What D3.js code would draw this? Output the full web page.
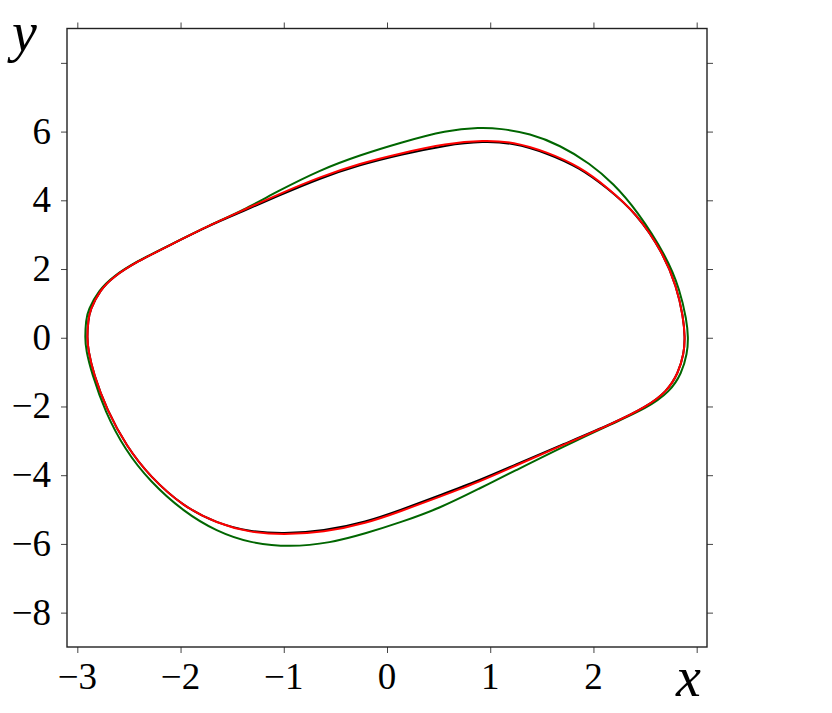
<!DOCTYPE html>
<html>
<head>
<meta charset="utf-8">
<script src="https://d3js.org/d3.v7.min.js"></script>
<style>
    body { margin: 0; background: #fff; }
    .tick_label { font-family: "Liberation Serif", "DejaVu Serif", serif; font-size: 37px; fill: #000; }
    .axis_label { font-family: "Liberation Serif", "DejaVu Serif", serif; font-style: italic; font-size: 56px; fill: #000; }
</style>
</head>
<body>
<div id="container"><svg></svg></div>
<script>
let width = 832;
let height = 713;

// tick values
let x_ticks = [-3, -2, -1, 0, 1, 2, 3];
let y_ticks = [-8, -6, -4, -2, 0, 2, 4, 6, 8];
let x_labels = ['\u22123', '\u22122', '\u22121', '0', '1', '2', ''];
let y_labels = ['\u22128', '\u22126', '\u22124', '\u22122', '0', '2', '4', '6', ''];

// closed orbits
let green_x = [-2.926, -2.916, -2.897, -2.790, -2.659, -2.432, -2.107, -1.715, -1.392, -1.069, -0.649, -0.262, 0.126, 0.578, 0.901, 1.095, 1.385, 1.676, 1.967, 2.192, 2.419, 2.710, 2.838, 2.903, 2.919, 2.909, 2.855, 2.742, 2.516, 2.192, 1.708, 1.224, 0.901, 0.513, 0.126, -0.197, -0.552, -0.940, -1.327, -1.650, -1.973, -2.296, -2.538, -2.732, -2.861, -2.916];
let green_y = [0.000, 0.516, 0.807, 1.389, 1.775, 2.211, 2.697, 3.279, 3.715, 4.247, 4.885, 5.314, 5.672, 6.041, 6.120, 6.091, 5.945, 5.605, 5.073, 4.491, 3.715, 2.357, 1.389, 0.516, 0.000, -0.452, -1.034, -1.569, -2.052, -2.488, -3.168, -3.895, -4.378, -4.960, -5.378, -5.686, -5.977, -6.094, -5.977, -5.640, -5.058, -4.186, -3.264, -2.150, -1.034, -0.356];

let black_x = [-2.906, -2.894, -2.877, -2.780, -2.651, -2.425, -2.102, -1.715, -1.392, -1.069, -0.649, -0.262, 0.126, 0.578, 0.933, 1.224, 1.547, 1.870, 2.128, 2.419, 2.677, 2.806, 2.870, 2.887, 2.877, 2.822, 2.710, 2.516, 2.192, 1.708, 1.224, 0.901, 0.513, 0.126, -0.197, -0.617, -1.005, -1.327, -1.650, -1.973, -2.296, -2.522, -2.715, -2.845, -2.894];
let black_y = [0.000, 0.516, 0.807, 1.389, 1.775, 2.211, 2.697, 3.279, 3.685, 4.111, 4.643, 5.033, 5.324, 5.614, 5.720, 5.671, 5.380, 4.944, 4.372, 3.619, 2.456, 1.484, 0.612, 0.000, -0.452, -1.034, -1.569, -2.005, -2.488, -3.099, -3.720, -4.146, -4.582, -5.018, -5.356, -5.629, -5.706, -5.649, -5.396, -4.913, -4.041, -3.168, -2.101, -1.034, -0.356];

let red_x = [-2.906, -2.894, -2.877, -2.780, -2.651, -2.425, -2.102, -1.715, -1.392, -1.069, -0.649, -0.262, 0.126, 0.578, 0.933, 1.224, 1.547, 1.870, 2.128, 2.419, 2.677, 2.806, 2.870, 2.887, 2.877, 2.822, 2.710, 2.516, 2.192, 1.708, 1.224, 0.901, 0.513, 0.126, -0.197, -0.617, -1.005, -1.327, -1.650, -1.973, -2.296, -2.522, -2.715, -2.845, -2.894];
let red_y = [0.000, 0.516, 0.807, 1.389, 1.775, 2.211, 2.697, 3.279, 3.715, 4.151, 4.683, 5.073, 5.364, 5.654, 5.750, 5.701, 5.410, 4.974, 4.392, 3.619, 2.456, 1.484, 0.612, 0.000, -0.452, -1.034, -1.569, -2.005, -2.488, -3.119, -3.750, -4.186, -4.622, -5.058, -5.396, -5.669, -5.736, -5.669, -5.396, -4.913, -4.041, -3.168, -2.101, -1.034, -0.356];

let series = [
    {name: 'green', color: '#006600', xs: green_x, ys: green_y},
    {name: 'black', color: '#000000', xs: black_x, ys: black_y},
    {name: 'red', color: '#ff0000', xs: red_x, ys: red_y}
];

let padding = {'left': 67, 'right': width - 707, 'top': 28.5, 'bottom': height - 647};

let svg = d3.select('#container')
    .select('svg')
    .attr('width', width)
    .attr('height', height);

let x = d3.scaleLinear()
    .domain([-3.1, 3.1])
    .range([padding.left, width - padding.right]);
let y = d3.scaleLinear()
    .domain([-9, 9])
    .range([height - padding.bottom, padding.top]);

// curves (smoothed through the read points)
let line = d3.line()
    .x(d => x(d[0]))
    .y(d => y(d[1]))
    .curve(d3.curveBasisClosed);

svg.append('g')
    .selectAll('path')
    .data(series)
    .enter().append('path')
    .attr('d', s => line(s.xs.map((v, i) => [v, s.ys[i]])))
    .attr('fill', 'none')
    .attr('stroke', s => s.color)
    .attr('stroke-width', 2);

// axes, ticks point outwards on all four sides
let tick_len = 6;
let axis_b = d3.axisBottom(x).tickValues(x_ticks).tickSize(tick_len).tickFormat('');
let axis_t = d3.axisTop(x).tickValues(x_ticks).tickSize(tick_len).tickFormat('');
let axis_l = d3.axisLeft(y).tickValues(y_ticks).tickSize(tick_len).tickFormat('');
let axis_r = d3.axisRight(y).tickValues(y_ticks).tickSize(tick_len).tickFormat('');

let axes = [
    [axis_b, `translate(0, ${height - padding.bottom})`],
    [axis_t, `translate(0, ${padding.top})`],
    [axis_l, `translate(${padding.left}, 0)`],
    [axis_r, `translate(${width - padding.right}, 0)`]
];
axes.forEach(a => {
    let g = svg.append('g').attr('transform', a[1]).call(a[0]);
    g.select('.domain').remove();
    g.selectAll('.tick line').attr('stroke', '#444').attr('stroke-width', 1);
});

// frame
svg.append('rect')
    .attr('x', padding.left)
    .attr('y', padding.top)
    .attr('width', width - padding.left - padding.right)
    .attr('height', height - padding.top - padding.bottom)
    .attr('fill', 'none')
    .attr('stroke', '#222')
    .attr('stroke-width', 1.4);

// tick labels
svg.append('g')
    .selectAll('text')
    .data(x_ticks)
    .enter().append('text')
    .attr('class', 'tick_label')
    .attr('x', d => x(d))
    .attr('y', 689)
    .attr('text-anchor', 'middle')
    .text((d, i) => x_labels[i]);

svg.append('g')
    .selectAll('text')
    .data(y_ticks)
    .enter().append('text')
    .attr('class', 'tick_label')
    .attr('x', padding.left - 16)
    .attr('y', d => y(d) + 12)
    .attr('text-anchor', 'end')
    .text((d, i) => y_labels[i]);

// axis labels
svg.append('text')
    .attr('class', 'axis_label')
    .attr('x', 676)
    .attr('y', 696)
    .text('x');

svg.append('text')
    .attr('class', 'axis_label')
    .attr('x', 12)
    .attr('y', 51)
    .text('y');
</script>
</body>
</html>
